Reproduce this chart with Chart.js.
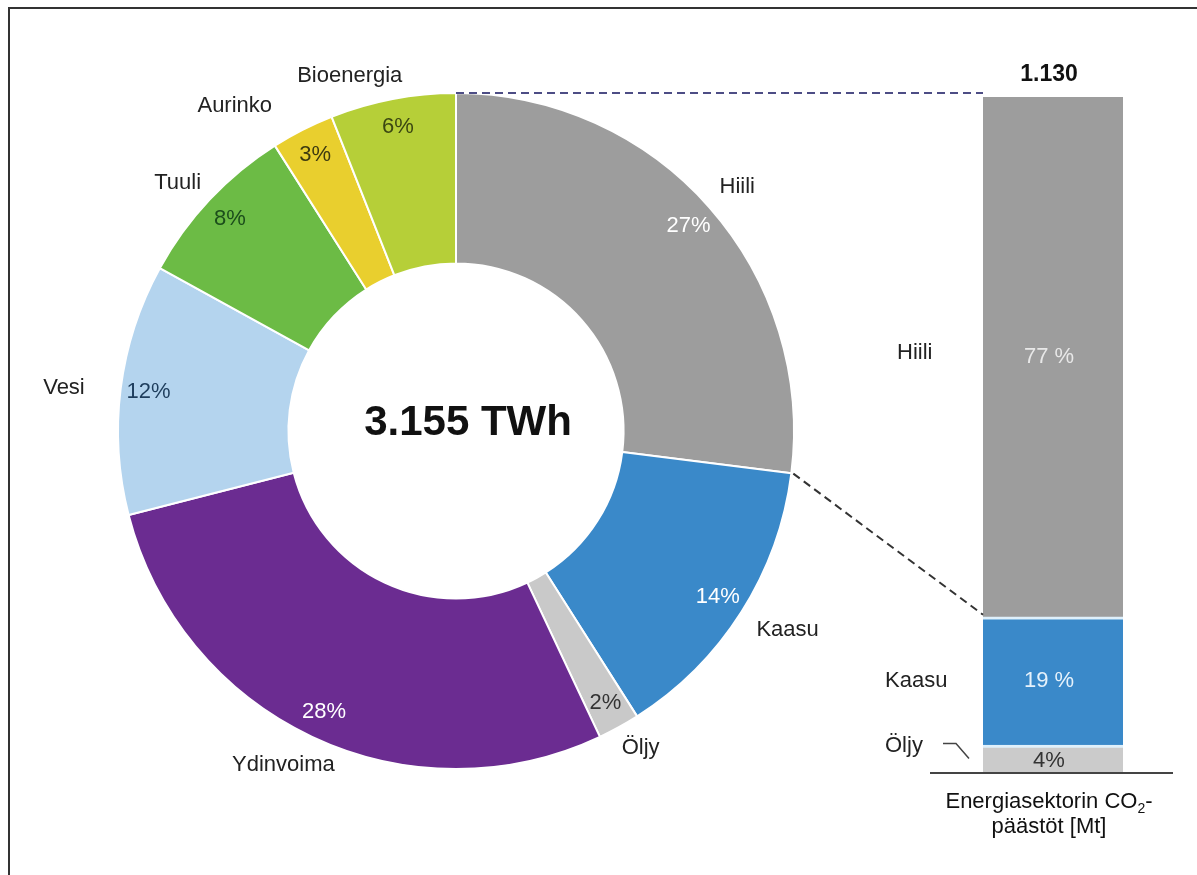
<!DOCTYPE html>
<html>
<head>
<meta charset="utf-8">
<script src="https://cdn.jsdelivr.net/npm/chart.js@4"></script>
<style>
  html, body { margin: 0; padding: 0; background: #fff; overflow: hidden; }
  #wrap { position: relative; width: 1197px; height: 875px; overflow: hidden; }
  canvas { position: absolute; left: 0; top: 0; }
  #frame { position: absolute; left: 8px; top: 7px; width: 1300px; height: 1000px;
           border-left: 2px solid #333; border-top: 2px solid #333; }
</style>
</head>
<body>
<div id="wrap">
  <div id="frame"></div>
  <canvas id="donut" width="1197" height="875"></canvas>
  <canvas id="bar" width="1197" height="875"></canvas>
</div>
<script>
// electricity generation by source, share of 3.155 TWh
const sources = ['Hiili', 'Kaasu', 'Öljy', 'Ydinvoima', 'Vesi', 'Tuuli', 'Aurinko', 'Bioenergia'];
const shares = [27, 14, 2, 28, 12, 8, 3, 6];
const totalLabel = '3.155 TWh';

// CO2 emissions of the energy sector, bottom to top
const co2Sources = ['Öljy', 'Kaasu', 'Hiili'];
const co2Shares = [4, 19, 77];
const co2PctLabels = ['4%', '19 %', '77 %'];
const co2Total = '1.130';

const colors = ['#9d9d9d', '#3a89c9', '#c9c9c9', '#6b2c91', '#b4d4ee', '#6cbb45', '#e9cf2e', '#b6cf38'];
const pctColors = ['#ffffff', '#ffffff', '#333333', '#ffffff', '#1e3d5c', '#1b4d1b', '#3d3a10', '#3b4712'];
const nameNudge = [[0, 4], [15, -2], [4, -12], [-13, -5], [-20, 4], [-5, 9], [-51, 9], [-36, 13]];

const FONT = '"Liberation Sans", Arial, sans-serif';

const donutLabels = {
  id: 'donutLabels',
  afterDraw(chart) {
    const ctx = chart.ctx;
    const arcs = chart.getDatasetMeta(0).data;
    ctx.save();
    ctx.textAlign = 'center';
    ctx.textBaseline = 'middle';
    arcs.forEach((arc, i) => {
      const mid = (arc.startAngle + arc.endAngle) / 2;
      const rp = arc.outerRadius - 28;
      ctx.font = '22px ' + FONT;
      ctx.fillStyle = pctColors[i];
      ctx.fillText(shares[i] + '%', arc.x + rp * Math.cos(mid), arc.y + rp * Math.sin(mid));
      const rn = arc.outerRadius + 37;
      ctx.fillStyle = '#222';
      ctx.fillText(sources[i], arc.x + rn * Math.cos(mid) + nameNudge[i][0], arc.y + rn * Math.sin(mid) + nameNudge[i][1]);
    });
    const a = arcs[0];
    ctx.font = 'bold 42px ' + FONT;
    ctx.fillStyle = '#111';
    ctx.fillText(totalLabel, a.x + 12, a.y - 8);
    ctx.restore();
  }
};

const donutChart = new Chart(document.getElementById('donut'), {
  type: 'doughnut',
  data: {
    labels: sources,
    datasets: [{
      data: shares,
      backgroundColor: colors,
      borderColor: '#ffffff',
      borderWidth: 2
    }]
  },
  options: {
    responsive: false,
    animation: false,
    radius: 338,
    cutout: 176,
    layout: { padding: { left: 100, right: 385, top: 40, bottom: 53 } },
    plugins: { legend: { display: false }, tooltip: { enabled: false } }
  },
  plugins: [donutLabels]
});

const barLabels = {
  id: 'barLabels',
  afterDraw(chart) {
    const ctx = chart.ctx;
    const els = co2Sources.map((s, i) => chart.getDatasetMeta(i).data[0]);
    const hiili = els[2], kaasu = els[1], oljy = els[0];
    const left = hiili.x - hiili.width / 2;
    const right = hiili.x + hiili.width / 2;
    const cx = hiili.x - 4;
    ctx.save();

    // dashed connectors from the coal slice to the bar
    const arc = donutChart.getDatasetMeta(0).data[0];
    ctx.setLineDash([8, 5]);
    ctx.lineWidth = 2;
    ctx.strokeStyle = '#4d4d85';
    ctx.beginPath();
    ctx.moveTo(arc.x + arc.outerRadius * Math.cos(arc.startAngle), arc.y + arc.outerRadius * Math.sin(arc.startAngle));
    ctx.lineTo(left, hiili.y - 4);
    ctx.stroke();
    ctx.strokeStyle = '#333';
    ctx.beginPath();
    ctx.moveTo(arc.x + (arc.outerRadius + 2) * Math.cos(arc.endAngle), arc.y + (arc.outerRadius + 2) * Math.sin(arc.endAngle));
    ctx.lineTo(left, hiili.base - 2);
    ctx.stroke();
    ctx.setLineDash([]);

    // baseline
    ctx.strokeStyle = '#444';
    ctx.lineWidth = 2;
    ctx.beginPath();
    ctx.moveTo(left - 53, oljy.base + 1);
    ctx.lineTo(right + 50, oljy.base + 1);
    ctx.stroke();

    // oil connector
    const oy = (oljy.y + oljy.base) / 2;
    ctx.lineWidth = 1.5;
    ctx.beginPath();
    ctx.moveTo(left - 40, oy - 15);
    ctx.lineTo(left - 27, oy - 15);
    ctx.lineTo(left - 14, oy);
    ctx.stroke();

    ctx.textBaseline = 'middle';
    ctx.font = '22px ' + FONT;
    // values in the bar
    ctx.textAlign = 'center';
    const pctCol = ['#333', '#e6f2fb', '#e8e8e8'];
    els.forEach((el, i) => {
      ctx.fillStyle = pctCol[i];
      ctx.fillText(co2PctLabels[i], cx, (el.y + el.base) / 2 + (i === 0 ? 2 : 0));
    });
    // names left of bar
    ctx.textAlign = 'left';
    ctx.fillStyle = '#222';
    ctx.fillText('Hiili', left - 86, (hiili.y + hiili.base) / 2 - 4);
    ctx.fillText('Kaasu', left - 98, (kaasu.y + kaasu.base) / 2);
    ctx.fillText('Öljy', left - 98, oy - 13);

    // total on top
    ctx.textAlign = 'center';
    ctx.font = 'bold 23px ' + FONT;
    ctx.fillStyle = '#111';
    ctx.fillText(co2Total, cx, hiili.y - 22);

    // caption with subscript
    ctx.textBaseline = 'alphabetic';
    const p1 = 'Energiasektorin CO', p2 = '-';
    ctx.font = '22px ' + FONT;
    const w1 = ctx.measureText(p1).width, w3 = ctx.measureText(p2).width;
    ctx.font = '14px ' + FONT;
    const w2 = ctx.measureText('2').width;
    const x0 = cx - (w1 + w2 + w3) / 2;
    const by = oljy.base + 36;
    ctx.textAlign = 'left';
    ctx.font = '22px ' + FONT;
    ctx.fillText(p1, x0, by);
    ctx.font = '14px ' + FONT;
    ctx.fillText('2', x0 + w1, by + 5);
    ctx.font = '22px ' + FONT;
    ctx.fillText(p2, x0 + w1 + w2, by);
    ctx.textAlign = 'center';
    ctx.fillText('päästöt [Mt]', cx, by + 25);
    ctx.restore();
  }
};

const barColors = ['#cbcbcb', '#3a89c9', '#9d9d9d'];
new Chart(document.getElementById('bar'), {
  type: 'bar',
  data: {
    labels: ['CO2'],
    datasets: co2Sources.map((s, i) => ({
      label: s,
      data: [co2Shares[i]],
      backgroundColor: barColors[i],
      borderColor: '#dff0fb',
      borderWidth: s === 'Hiili' ? 0 : { top: 3, left: 0, right: 0, bottom: 0 },
      borderSkipped: false,
      barPercentage: 1,
      categoryPercentage: 1
    }))
  },
  options: {
    responsive: false,
    animation: false,
    layout: { padding: { left: 983, right: 74, top: 97, bottom: 103 } },
    scales: {
      x: { stacked: true, display: false },
      y: { stacked: true, display: false, min: 0, max: 100 }
    },
    plugins: { legend: { display: false }, tooltip: { enabled: false } }
  },
  plugins: [barLabels]
});
</script>
</body>
</html>
